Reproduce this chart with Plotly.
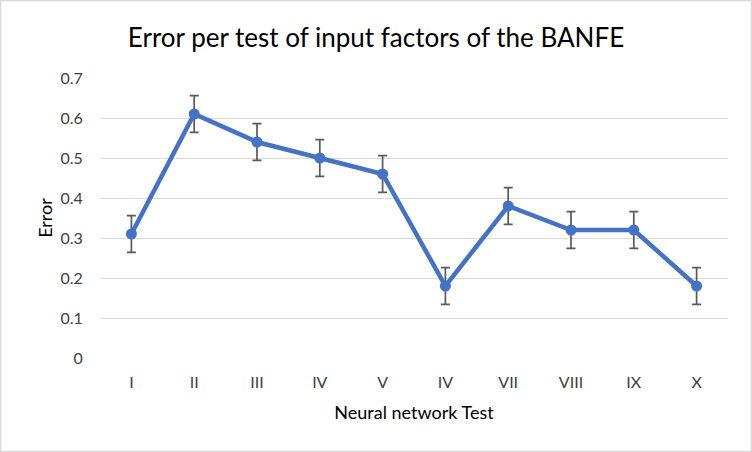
import plotly.graph_objects as go

categories = ["I", "II", "III", "IV", "V", "IV", "VII", "VIII", "IX", "X"]
errors = [0.31, 0.61, 0.54, 0.50, 0.46, 0.18, 0.38, 0.32, 0.32, 0.18]
error_bar = [0.046] * len(errors)
y_ticks = [0, 0.1, 0.2, 0.3, 0.4, 0.5, 0.6, 0.7]
y_tick_labels = ["0", "0.1", "0.2", "0.3", "0.4", "0.5", "0.6", "0.7"]

positions = list(range(len(categories)))

W, H = 752, 452
ml, mr, mt, mb = 100, 24, 78, 94
pw, ph = W - ml - mr, H - mt - mb

fig = go.Figure()
fig.add_trace(go.Scatter(
    x=positions, y=errors,
    mode="lines+markers",
    line=dict(color="#4472C4", width=4.5),
    marker=dict(color="#4472C4", size=11),
    error_y=dict(type="data", array=error_bar, visible=True,
                 color="#595959", thickness=1.7, width=4.5),
    showlegend=False,
))

fig.update_layout(
    width=W, height=H,
    margin=dict(l=ml, r=mr, t=mt, b=mb, autoexpand=False),
    paper_bgcolor="white", plot_bgcolor="white",
    font=dict(family="Lato, Open Sans, sans-serif", color="#595959", size=15),
    title=dict(text="Error per test of input factors of the BANFE",
               x=0.5, xanchor="center", y=1 - 38 / H, yanchor="middle",
               font=dict(size=26, color="black")),
    xaxis=dict(range=[-0.5, len(categories) - 0.5], tickvals=positions,
               ticktext=categories, showgrid=False, zeroline=False,
               showline=False, ticks="outside", ticklen=10,
               tickcolor="rgba(0,0,0,0)", automargin=False,
               tickfont=dict(size=16, color="#404040"),
               title=dict(text="Neural network Test", standoff=16,
                          font=dict(size=18, color="black"))),
    yaxis=dict(range=[0, 0.7], tickvals=y_ticks, ticktext=y_tick_labels,
               showgrid=True, gridcolor="#D9D9D9", gridwidth=1.3,
               zeroline=False, showline=False, ticks="outside", ticklen=13,
               tickcolor="rgba(0,0,0,0)", automargin=False,
               tickfont=dict(size=16, color="#404040"),
               title=dict(text="Error", standoff=3,
                          font=dict(size=18, color="black"))),
    shapes=[dict(type="rect", xref="paper", yref="paper",
                 x0=(0.5 - ml) / pw, x1=(W - 0.5 - ml) / pw,
                 y0=(0.5 - mb) / ph, y1=(H - 0.5 - mb) / ph,
                 line=dict(color="#D9D9D9", width=1.5), layer="below")],
)

fig.write_html(
    "out.html",
    config={"displayModeBar": False},
    post_script="document.body.style.margin='0';document.body.style.overflow='hidden';",
)
